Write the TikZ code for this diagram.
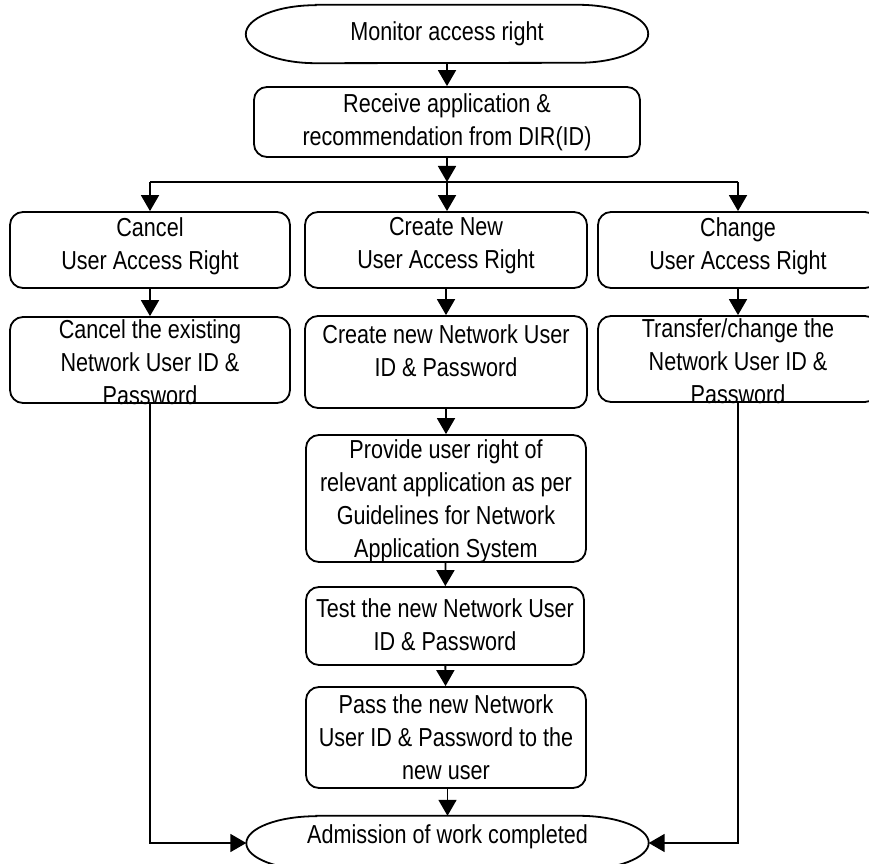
\documentclass[tikz,border=0pt]{standalone}
\usepackage{fontspec}
\setmainfont{Liberation Sans}[FakeStretch=0.83]
\usetikzlibrary{arrows.meta}

\tikzset{
  flow/.style={draw=black, line width=1.8pt},
  arr/.style={flow, -{Triangle[length=16pt,width=18pt]}},
  stepbox/.style={draw=black, line width=1.8pt, rounded corners=13pt,
    inner sep=0pt, minimum width=#1},
  term/.style={inner sep=0pt, minimum width=402pt},
  txt/.style={align=center, inner sep=0pt, font=\fontsize{26}{33}\selectfont}
}

% terminator outline: straight top and bottom, elliptical ends
\newcommand{\termoutline}[2]{%
  \draw[flow] ([xshift=70pt]#1.north west) -- ([xshift=-70pt]#1.north east)
    arc[start angle=90, end angle=-90, x radius=70pt, y radius=#2]
    -- ([xshift=70pt]#1.south west)
    arc[start angle=270, end angle=90, x radius=70pt, y radius=#2] -- cycle;}

\begin{document}
\begin{tikzpicture}[x=1pt, y=1pt]
\fill[white] (0,0) rectangle (869,863);
\useasboundingbox (0,0) rectangle (869,863);

% start
\node[term, minimum height=58pt] (mon) at (447,829) {};
\termoutline{mon}{29pt}
\node[txt] at (mon.center) {Monitor access right};

% application
\node[stepbox=386pt, minimum height=70pt] (rec) at (447,741) {};
\node[txt] at (rec.center) {Receive application \&\\recommendation from DIR(ID)};

% split
\coordinate (split) at (447,681);
\coordinate (splitL) at (150,681);
\coordinate (splitR) at (738,681);

% first row
\node[stepbox=280pt, minimum height=76pt] (cancel) at (150,613) {};
\node[txt] at ([yshift=4pt]cancel.center) {Cancel\\User Access Right};
\node[stepbox=282pt, minimum height=76pt] (create) at (446,613) {};
\node[txt] at ([yshift=4pt]create.center) {Create New\\User Access Right};
\node[stepbox=280pt, minimum height=76pt] (change) at (738,613) {};
\node[txt] at ([yshift=4pt]change.center) {Change\\User Access Right};

% second row
\node[stepbox=280pt, minimum height=86pt] (cancelid) at (150,503) {};
\node[txt] at ([yshift=-2pt]cancelid.center) {Cancel the existing\\Network User ID \&\\Password};
\node[stepbox=282pt, minimum height=92pt] (createid) at (446,501) {};
\node[txt] at ([yshift=11pt]createid.center) {Create new Network User\\ID \& Password};
\node[stepbox=280pt, minimum height=86pt] (changeid) at (738,504) {};
\node[txt] at ([yshift=-2pt]changeid.center) {Transfer/change the\\Network User ID \&\\Password};

% new-user branch
\node[stepbox=280pt, minimum height=127pt] (provide) at (446,364.5) {};
\node[txt] at ([yshift=-3pt]provide.center) {Provide user right of\\relevant application as per\\Guidelines for Network\\Application System};
\node[stepbox=278pt, minimum height=78pt] (test) at (445,237) {};
\node[txt] at ([yshift=1pt]test.center) {Test the new Network User\\ID \& Password};
\node[stepbox=280pt, minimum height=101pt] (pass) at (446,125.5) {};
\node[txt] at (pass.center) {Pass the new Network\\User ID \& Password to the\\new user};

% end
\node[term, minimum height=54pt] (adm) at (447.5,20) {};
\termoutline{adm}{27pt}
\node[txt] at ([yshift=6pt]adm.center) {Admission of work completed};

% connectors
\draw[arr] (mon) -- (rec);
\draw[arr] (rec.south -| split) -- (split);
\draw[flow] (splitL) -- (splitR);
\draw[arr] (splitL) -- (cancel);
\draw[arr] (split) -- (split |- create.north);
\draw[arr] (splitR) -- (change);
\draw[arr] (cancel) -- (cancelid);
\draw[arr] (create) -- (createid);
\draw[arr] (change) -- (changeid);
\draw[arr] (createid) -- (provide);
\draw[arr] (provide) -- (test);
\draw[arr] (test) -- (pass);
\draw[arr] (pass.south -| adm) -- (adm.north);
\draw[arr] (cancelid.south) |- (adm.west);
\draw[arr] (changeid.south) |- (adm.east);
\end{tikzpicture}
\end{document}
